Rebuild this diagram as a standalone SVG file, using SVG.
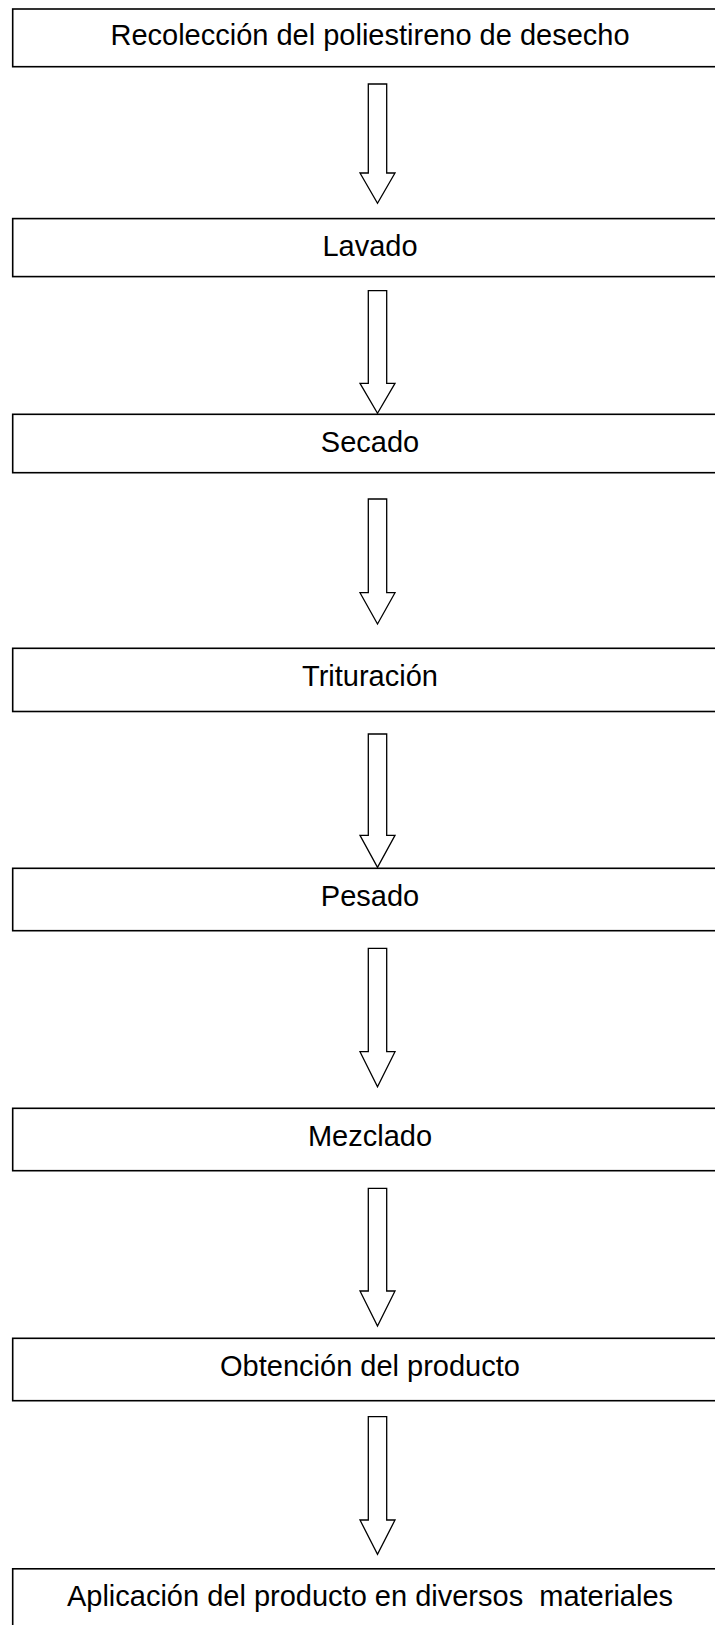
<svg xmlns="http://www.w3.org/2000/svg" width="715" height="1625" viewBox="0 0 715 1625">
<style>
.box{fill:#fff;stroke:#000;stroke-width:1.6}
.lbl{font-family:"Liberation Sans",Arial,sans-serif;font-size:29px;fill:#000;text-anchor:middle;white-space:pre}
.arr{fill:#fff;stroke:#000;stroke-width:1.3;stroke-linejoin:miter}
</style>
<rect width="715" height="1625" fill="#fff"/>
<g id="connectors">
<path class="arr" d="M368.3,84 H386.7 V173 H395 L377.5,203.3 L360,173 H368.3 Z"/>
<path class="arr" d="M368.3,290.7 H386.7 V383.3 H395 L377.5,413.3 L360,383.3 H368.3 Z"/>
<path class="arr" d="M368.3,499 H386.7 V592.7 H395 L377.5,624 L360,592.7 H368.3 Z"/>
<path class="arr" d="M368.3,734 H386.7 V835.3 H395 L377.5,867.3 L360,835.3 H368.3 Z"/>
<path class="arr" d="M368.3,948.3 H386.7 V1051.7 H395 L377.5,1086.7 L360,1051.7 H368.3 Z"/>
<path class="arr" d="M368.3,1188.3 H386.7 V1291 H395 L377.5,1326 L360,1291 H368.3 Z"/>
<path class="arr" d="M368.3,1416.7 H386.7 V1520 H395 L377.5,1554.3 L360,1520 H368.3 Z"/>
</g>
<g id="n1"><rect class="box" x="12.7" y="9" width="714" height="57.7"/><text class="lbl" x="370" y="44.7">Recolección del poliestireno de desecho</text></g>
<g id="n2"><rect class="box" x="12.7" y="218.6" width="714" height="58"/><text class="lbl" x="370" y="256">Lavado</text></g>
<g id="n3"><rect class="box" x="12.7" y="414.3" width="714" height="58.4"/><text class="lbl" x="370" y="452">Secado</text></g>
<g id="n4"><rect class="box" x="12.7" y="648.3" width="714" height="63.2"/><text class="lbl" x="370" y="686">Trituración</text></g>
<g id="n5"><rect class="box" x="12.7" y="868.3" width="714" height="62.4"/><text class="lbl" x="370" y="905.5">Pesado</text></g>
<g id="n6"><rect class="box" x="12.7" y="1108.3" width="714" height="62.4"/><text class="lbl" x="370" y="1146">Mezclado</text></g>
<g id="n7"><rect class="box" x="12.7" y="1338.3" width="714" height="62.4"/><text class="lbl" x="370" y="1375.5">Obtención del producto</text></g>
<g id="n8"><rect class="box" x="12.7" y="1568.8" width="714" height="62.4"/><text class="lbl" x="370" y="1605.5" xml:space="preserve">Aplicación del producto en diversos  materiales</text></g>
</svg>
